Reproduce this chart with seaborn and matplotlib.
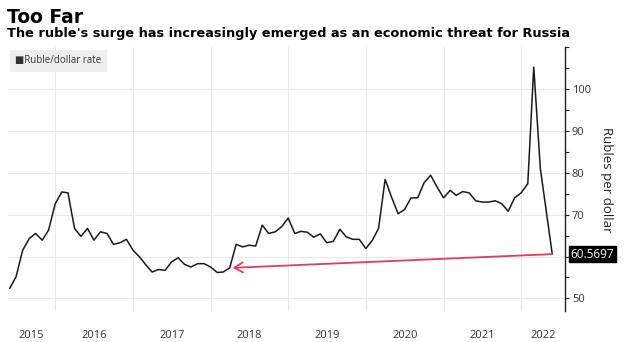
import numpy as np
import pandas as pd
import matplotlib
matplotlib.use("Agg")
import matplotlib.pyplot as plt
import matplotlib.dates as mdates
from matplotlib.ticker import MultipleLocator, FixedLocator
import seaborn as sns

# ---- data ----
monthly_start = "2015-06-01"
monthly_values = [
    52.4, 55.2, 61.5, 64.3, 65.5, 63.9, 66.3, 72.6, 75.4, 75.2,
    66.7, 64.8, 66.7, 63.9, 65.9, 65.5, 62.9, 63.3, 64.1, 61.5,
    59.9, 58.1, 56.3, 56.9, 56.7, 58.7, 59.7, 58.1, 57.5, 58.3,
    58.3, 57.5, 56.2, 56.3, 57.3, 62.9, 62.3, 62.7, 62.5, 67.5,
    65.5, 65.9, 67.1, 69.2, 65.5, 66.0, 65.8, 64.6, 65.4, 63.3,
    63.6, 66.5, 64.7, 64.1, 64.1, 61.9, 63.9, 66.7, 78.4, 74.2,
    70.2, 71.2, 74.0, 74.0, 77.6, 79.4, 76.6, 74.0, 75.8, 74.6,
    75.5, 75.2, 73.3, 73.0, 73.0, 73.3, 72.6, 70.8, 74.0, 75.2,
    77.4, 105.2, 81.0,
]
last_date = "2022-05-27"
last_value = 60.5697
arrow_target_date = "2018-04-15"
arrow_target_value = 57.3
year_labels = ["2015", "2016", "2017", "2018", "2019", "2020", "2021", "2022"]
y_ticks = [50, 60, 70, 80, 90, 100]
y_tick_labels = ["50", "", "70", "80", "90", "100"]  # 60 hidden behind the value tag

dates = list(pd.date_range(monthly_start, periods=len(monthly_values), freq="MS")) + [pd.Timestamp(last_date)]
values = monthly_values + [last_value]
df = pd.DataFrame({"date": dates, "rate": values})

# ---- figure ----
sns.set_theme(style="white")
plt.rcParams["font.family"] = ["DejaVu Sans"]

W, H = 635, 342
fig = plt.figure(figsize=(W / 100, H / 100), dpi=100)
ax_left, ax_right, ax_top, ax_bot = 8, 565, 47, 311
ax = fig.add_axes([ax_left / W, 1 - ax_bot / H, (ax_right - ax_left) / W, (ax_bot - ax_top) / H])

sns.lineplot(data=df, x="date", y="rate", ax=ax, color="#1a1a1a", linewidth=1.1, legend=False)

x0 = pd.Timestamp("2015-05-24")
x1 = pd.Timestamp("2022-07-26")
ax.set_xlim(x0, x1)
ax.set_ylim(47, 110)

# gridlines at year starts
year_starts = [pd.Timestamp(f"{y}-01-01") for y in range(2016, 2023)]
ax.set_xticks([mdates.date2num(d) for d in year_starts])
ax.set_xticklabels([])
ax.tick_params(axis="x", which="major", length=0)

# labels centred in each year span
mids = []
for i, lab in enumerate(year_labels):
    y = int(lab)
    a = max(pd.Timestamp(f"{y}-01-01"), x0)
    b = min(pd.Timestamp(f"{y+1}-01-01"), x1)
    mids.append(mdates.date2num(a) + (mdates.date2num(b) - mdates.date2num(a)) / 2)
ax.set_xticks(mids, minor=True)
ax.set_xticklabels(year_labels, minor=True, fontsize=8, color="#333333", family="Open Sans")
ax.tick_params(axis="x", which="minor", length=0, pad=14)

# right y axis
ax.yaxis.tick_right()
ax.yaxis.set_major_locator(FixedLocator(y_ticks))
ax.yaxis.set_minor_locator(FixedLocator([55, 65, 75, 85, 95, 105, 110]))
ax.set_yticklabels(y_tick_labels, fontsize=8, color="#333333", family="Open Sans")
ax.tick_params(axis="y", which="both", direction="out", length=3, width=0.8, color="#222222", pad=2)

ax.grid(True, which="major", color="#e8e8e8", linewidth=0.8)
for side in ["left", "top", "bottom"]:
    ax.spines[side].set_visible(False)
ax.spines["right"].set_color("#222222")
ax.spines["right"].set_linewidth(1.0)
ax.set_xlabel("")
ax.set_ylabel("")

# red arrow
ax.annotate("", xy=(pd.Timestamp(arrow_target_date), arrow_target_value),
            xytext=(pd.Timestamp(last_date), last_value),
            arrowprops=dict(arrowstyle="->,head_length=0.5,head_width=0.3", color="#e23b5b", lw=1.3,
                            shrinkA=0, shrinkB=0))

# last value tag
ax.annotate(f"{last_value:.4f}", xy=(1.0, last_value), xycoords=ax.get_yaxis_transform(),
            xytext=(4, 0), textcoords="offset points", ha="left", va="center",
            fontsize=8.5, color="white", family="Open Sans",
            bbox=dict(boxstyle="square,pad=0.15", fc="black", ec="black"))

# axis label
fig.text(606 / W, 1 - 180 / H, "Rubles per dollar", rotation=270, ha="center", va="center",
         fontsize=9.5, color="#222222", family="Open Sans")

# titles
fig.text(7 / W, 1 - 8 / H, "Too Far", fontsize=13.5, weight="bold", ha="left", va="top", color="black")
fig.text(7 / W, 1 - 27 / H, "The ruble's surge has increasingly emerged as an economic threat for Russia",
         fontsize=9.3, weight="bold", ha="left", va="top", color="black")

# legend box
fig.text(15 / W, 1 - 61 / H, "\u25A0Ruble/dollar rate", fontsize=7, ha="left", va="center", color="#333333",
         family=["Open Sans", "DejaVu Sans"],
         bbox=dict(boxstyle="square,pad=0.55", fc="#eeeeee", ec="none"))

fig.savefig("out.png", dpi=100)
